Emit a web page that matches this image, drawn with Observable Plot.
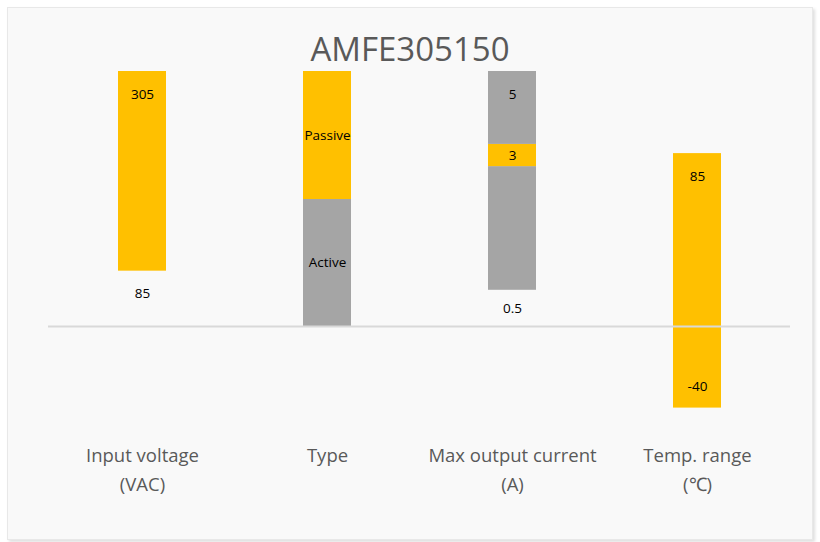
<!DOCTYPE html>
<html>
<head>
<meta charset="utf-8">
<script src="https://cdn.jsdelivr.net/npm/d3@7"></script>
<script src="https://cdn.jsdelivr.net/npm/@observablehq/plot@0.6"></script>
<style>
  html, body { margin: 0; padding: 0; background: #ffffff; width: 820px; height: 542px; overflow: hidden; }
  #panel { position: absolute; left: 7px; top: 7px; width: 804px; height: 531px; background: #f9f9f9;
           border: 1px solid #e8e8e8; box-shadow: 2px 2px 3px rgba(0,0,0,0.13); }
  #title { position: absolute; left: 0; top: 32px; width: 820px; text-align: center;
           font-family: "Open Sans", sans-serif; font-size: 33px; line-height: 33px; color: #595959; }
  #chart { position: absolute; left: 0; top: 66px; }
</style>
</head>
<body>
<div id="panel"></div>
<div id="title">AMFE305150</div>
<div id="chart"></div>
<script>
// Categories (x axis)
const categories = ["Input voltage\n(VAC)", "Type", "Max output current\n(A)", "Temp. range\n(℃)"];

// Segments per category, in the chart's normalised units (top of plot = 100, axis = 0)
const inputVoltage = [
  {y1: 0,    y2: 21.7, kind: "blank",  label: "85",  at: "end"},
  {y1: 21.7, y2: 100,  kind: "accent", label: "305", at: "end"}
];
const type = [
  {y1: 0,    y2: 49.8, kind: "neutral", label: "Active",  at: "center"},
  {y1: 49.8, y2: 100,  kind: "accent",  label: "Passive", at: "center"}
];
const maxOutputCurrent = [
  {y1: 0,    y2: 14.2, kind: "blank",   label: "0.5", at: "center"},
  {y1: 14.2, y2: 62.7, kind: "neutral", label: "",    at: "center"},
  {y1: 62.7, y2: 71.4, kind: "accent",  label: "3",   at: "center"},
  {y1: 71.4, y2: 100,  kind: "neutral", label: "5",   at: "end"}
];
const tempRange = [
  {y1: -32, y2: 0,    kind: "accent", label: "-40", at: "end"},
  {y1: 0,   y2: 67.8, kind: "accent", label: "85",  at: "end"}
];

const kinds = ["accent", "neutral"];
const kindColors = ["#FFC000", "#A5A5A5"];

const segments = [inputVoltage, type, maxOutputCurrent, tempRange]
  .flatMap((segs, i) => segs.map(s => ({...s, cat: categories[i]})));

const labels = segments.filter(s => s.label).map(s => {
  if (s.at === "center") return {...s, y: (s.y1 + s.y2) / 2, dy: 0};
  const up = Math.abs(s.y2) >= Math.abs(s.y1);
  return {...s, y: up ? s.y2 : s.y1, dy: up ? 23 : -21};
});

const chart = Plot.plot({
  width: 820,
  height: 450,
  marginTop: 5,
  marginBottom: 88,
  marginLeft: 48,
  marginRight: 30,
  style: {background: "transparent", fontFamily: "'Open Sans', sans-serif"},
  x: {domain: categories, paddingInner: 0.741, paddingOuter: 0.3705, axis: null},
  y: {domain: [-40, 100], axis: null},
  color: {domain: kinds, range: kindColors},
  marks: [
    Plot.barY(segments.filter(s => s.kind !== "blank"), {x: "cat", y1: "y1", y2: "y2", fill: "kind"}),
    Plot.ruleY([0], {stroke: "#d9d9d9", strokeWidth: 2}),
    Plot.text(labels.filter(d => d.dy === 0), {x: "cat", y: "y", text: "label", fontSize: 13.5, fill: "#000"}),
    Plot.text(labels.filter(d => d.dy === 23), {x: "cat", y: "y", text: "label", dy: 23, fontSize: 13.5, fill: "#000"}),
    Plot.text(labels.filter(d => d.dy === -21), {x: "cat", y: "y", text: "label", dy: -21, fontSize: 13.5, fill: "#000"}),
    Plot.text(categories, {x: d => d, frameAnchor: "bottom", dy: 13.5, lineAnchor: "top",
      lineHeight: 1.556, fontSize: 18.5, fill: "#595959", text: d => d})
  ]
});
document.getElementById("chart").appendChild(chart);
</script>
</body>
</html>
